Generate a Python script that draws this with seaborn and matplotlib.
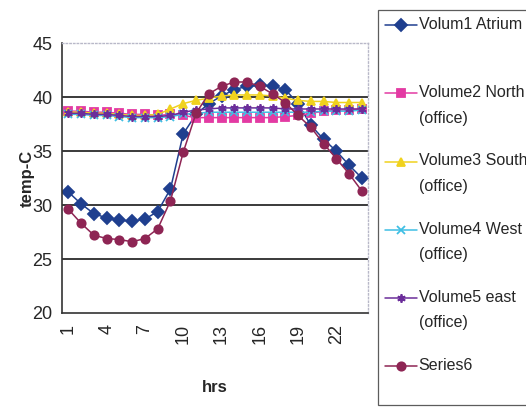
import matplotlib
matplotlib.use("Agg")
import matplotlib.pyplot as plt
import numpy as np
import pandas as pd
import seaborn as sns

hours = list(range(1, 25))

atrium = [31.2, 30.1, 29.2, 28.8, 28.6, 28.5, 28.7, 29.4, 31.5, 36.6, 38.4, 39.4,
          40.1, 40.7, 41.0, 41.1, 41.0, 40.7, 39.4, 37.4, 36.1, 35.0, 33.7, 32.5]
north = [38.7, 38.7, 38.6, 38.6, 38.5, 38.4, 38.4, 38.3, 38.4, 38.3, 38.1, 38.1,
         38.1, 38.1, 38.1, 38.1, 38.1, 38.2, 38.3, 38.5, 38.7, 38.8, 38.8, 38.9]
south = [38.6, 38.6, 38.5, 38.5, 38.4, 38.3, 38.3, 38.4, 38.9, 39.4, 39.7, 39.9,
         40.1, 40.2, 40.2, 40.2, 40.1, 39.9, 39.7, 39.6, 39.6, 39.5, 39.5, 39.5]
west = [38.4, 38.4, 38.3, 38.3, 38.2, 38.1, 38.1, 38.1, 38.2, 38.4, 38.5, 38.6,
        38.6, 38.6, 38.6, 38.6, 38.6, 38.6, 38.6, 38.6, 38.7, 38.7, 38.7, 38.8]
east = [38.5, 38.5, 38.4, 38.4, 38.3, 38.2, 38.2, 38.2, 38.3, 38.6, 38.8, 38.9,
        39.0, 39.0, 39.0, 39.0, 39.0, 38.9, 38.9, 38.9, 38.9, 38.9, 38.9, 38.9]
series6 = [29.6, 28.3, 27.2, 26.9, 26.8, 26.6, 26.9, 27.8, 30.4, 34.9, 38.5, 40.3,
           41.0, 41.4, 41.4, 41.0, 40.3, 39.5, 38.3, 37.2, 35.7, 34.3, 32.9, 31.3]

series_names = ["Volum1 Atrium", "Volume2 North", "Volume3 South",
                "Volume4 West", "Volume5 east", "Series6"]
legend_labels = ["Volum1 Atrium\n ", "Volume2 North\n(office)", "Volume3 South\n(office)",
                 "Volume4 West\n(office)", "Volume5 east\n(office)", "Series6\n "]
colors = ["#1f3f8f", "#e33aa3", "#f0d21e", "#3fbfe4", "#6b2d9a", "#8e2554"]
markers = ["D", "s", "^", "x", (6, 2, 0), "o"]
x_tick_labels = ["1", "4", "7", "10", "13", "16", "19", "22"]

df = pd.DataFrame({
    "hrs": hours * 6,
    "temp": atrium + north + south + west + east + series6,
    "series": np.repeat(series_names, 24),
})

sns.set_style("white")
plt.rcParams["font.family"] = ["Liberation Sans", "DejaVu Sans"]

fig = plt.figure(figsize=(5.26, 4.07), dpi=100)
ax = fig.add_axes([0.118, 0.231, 0.582, 0.663])

# one call per series: seaborn won't mix filled and line-art markers
for name, c, m in zip(series_names, colors, markers):
    sns.lineplot(data=df[df["series"] == name], x="hrs", y="temp",
                 color=c, marker=m, markersize=6, linewidth=1.1,
                 markeredgecolor=c, markeredgewidth=1.3,
                 errorbar=None, ax=ax)

ax.set_xlim(0.5, 24.5)
ax.set_ylim(20, 45)
ax.set_yticks([20, 25, 30, 35, 40, 45])
ax.set_yticklabels(["20", "25", "30", "35", "40", "45"], fontsize=13)
ax.set_xticks([1, 4, 7, 10, 13, 16, 19, 22])
ax.set_xticklabels(x_tick_labels, fontsize=13, rotation=90)
ax.set_xticks(np.arange(0.5, 25, 1), minor=True)
ax.tick_params(axis="x", which="major", length=0, pad=8)
ax.tick_params(axis="x", which="minor", length=5, width=1, color="#333333", direction="out")
ax.tick_params(axis="y", length=8, width=1, color="#333333", direction="inout", pad=3)

for v in [25, 30, 35, 40]:
    ax.axhline(v, color="#2b2b2b", linewidth=1.3, zorder=0)

for s in ["left", "bottom"]:
    ax.spines[s].set_color("#333333")
    ax.spines[s].set_linewidth(1.2)
for s in ["top", "right"]:
    ax.spines[s].set_color("#b8b8c8")
    ax.spines[s].set_linestyle(":")
    ax.spines[s].set_linewidth(1.0)

ax.set_xlabel("hrs", fontsize=12, fontweight="bold", labelpad=26)
ax.set_ylabel("temp-C", fontsize=12, fontweight="bold", labelpad=-2)

leg = fig.legend(ax.lines[:6], legend_labels, loc="upper left",
                 bbox_to_anchor=(378 / 526, 1 - 10 / 407), borderaxespad=0,
                 fontsize=11.5, frameon=True, fancybox=False, edgecolor="#333333",
                 handlelength=2.0, handletextpad=0.1, labelspacing=1.75,
                 borderpad=0.45)
leg.get_frame().set_linewidth(0.9)
for t in leg.get_texts():
    t.set_linespacing(1.85)
for h in leg.legend_handles:
    h.set_ydata(np.asarray(h.get_ydata()) + 9)

fig.savefig("out.png", dpi=100)
